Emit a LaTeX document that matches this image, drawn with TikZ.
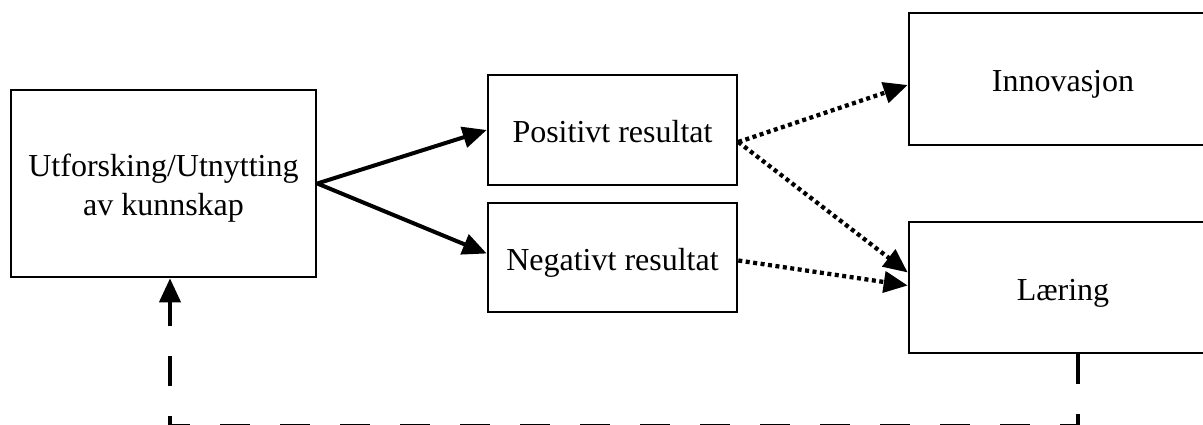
\documentclass[tikz,border=0pt]{standalone}
\usepackage{fontspec}
\setmainfont{Liberation Serif}
\usetikzlibrary{arrows.meta}
\newcommand{\boxtext}[1]{\raisebox{-5pt}[\height][\depth]{\begin{tabular}{@{}c@{}}#1\end{tabular}}}
\begin{document}
\begin{tikzpicture}[x=1pt,y=1pt,
  box/.style={draw=black,line width=2.6pt,rectangle,align=center,inner sep=0pt,
    font=\fontsize{32}{39}\selectfont},
  tip/.style={-{Triangle[length=24pt,width=21pt]}},
  solidarrow/.style={tip,line width=4pt},
  dotarrow/.style={tip,line width=4.3pt,dash pattern=on 4pt off 3.5pt},
  feedback/.style={tip,line width=4pt,dash pattern=on 30pt off 30pt}]
\useasboundingbox (0,0) rectangle (1203,-425);
\clip (0,0) rectangle (1203,-425);
\node[box,minimum width=305pt,minimum height=187pt] (A) at (163.5,-183.5) {\boxtext{Utforsking/Utnytting\\av kunnskap}};
\node[box,minimum width=249pt,minimum height=110pt] (P) at (612.5,-130) {\boxtext{Positivt resultat}};
\node[box,minimum width=249pt,minimum height=109pt] (N) at (612.5,-257.5) {\boxtext{Negativt resultat}};
\node[box,minimum width=308pt,minimum height=132pt] (I) at (1063,-79) {\boxtext{Innovasjon}};
\node[box,minimum width=308pt,minimum height=131pt] (L) at (1063,-287.5) {\boxtext{Læring}};
\draw[solidarrow] (A.east) -- (P.west);
\draw[solidarrow] (A.east) -- ([yshift=4pt]N.west);
\draw[dotarrow] ([yshift=-12pt]P.east) -- ([yshift=-6pt]I.west);
\draw[dotarrow] ([yshift=-12pt]P.east) -- ([yshift=15pt]L.west);
\draw[dotarrow] ([yshift=-3pt]N.east) -- ([yshift=2pt]L.west);
\coordinate (corner) at ([xshift=15pt,yshift=-72pt]L.south);
\draw[feedback] ([xshift=15pt]L.south) -- (corner) -| ([xshift=6.5pt]A.south);
\end{tikzpicture}
\end{document}
